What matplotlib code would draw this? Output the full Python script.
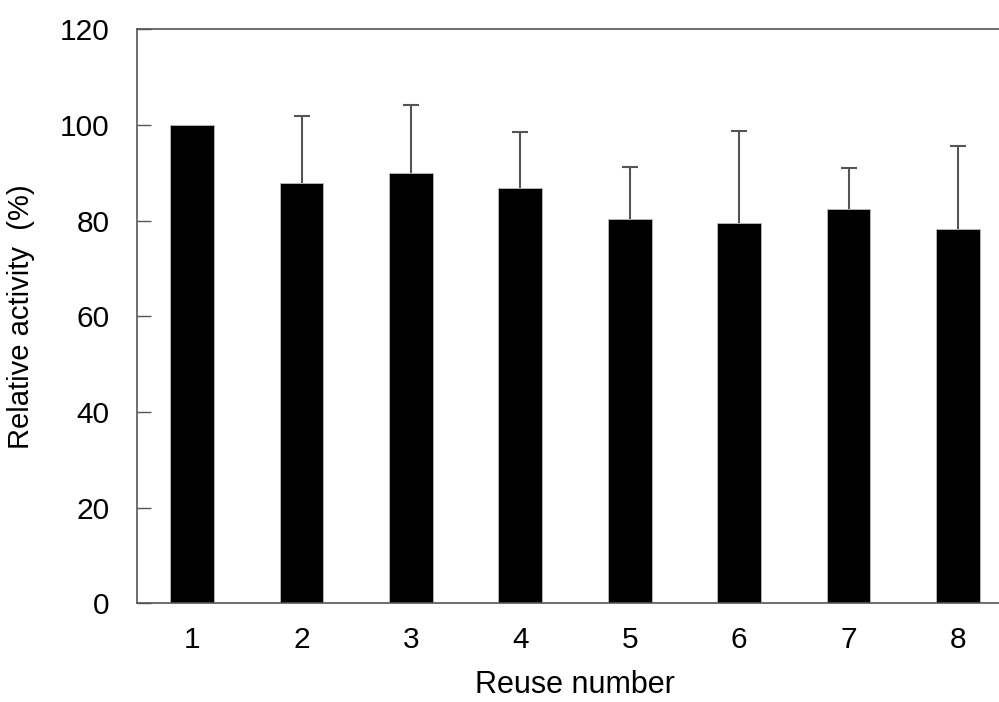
import matplotlib
matplotlib.use("Agg")
import matplotlib.pyplot as plt

reuse = [1, 2, 3, 4, 5, 6, 7, 8]
activity = [100.0, 87.8, 89.9, 86.9, 80.3, 79.6, 82.5, 78.2]
err_upper = [0.0, 14.1, 14.3, 11.6, 10.9, 19.1, 8.4, 17.3]
yticks = [0, 20, 40, 60, 80, 100, 120]

plt.rcParams['font.family'] = ['Liberation Sans', 'DejaVu Sans']

fig = plt.figure(figsize=(9.99, 7.02), dpi=100)
ax = fig.add_axes([0.1376, 0.1406, 0.876, 0.8177])

ax.bar(reuse, activity, width=0.4, color='black', edgecolor='#bbbbbb', linewidth=0.6, zorder=2)

ex = [x for x, e in zip(reuse, err_upper) if e > 0]
ey = [y for y, e in zip(activity, err_upper) if e > 0]
ee = [e for e in err_upper if e > 0]
eb = ax.errorbar(ex, ey, yerr=[[0]*len(ee), ee], fmt='none',
                 ecolor='#555555', elinewidth=1.5, capsize=5.5, capthick=1.5, zorder=1)
eb[1][0].remove()  # keep only upper caps

ax.set_xlim(0.5, 8.5)
ax.set_ylim(0, 120)
ax.set_yticks(yticks)
ax.set_xticks(reuse)
ax.tick_params(axis='y', direction='in', length=10, width=1, color='#555555', pad=20, labelsize=21.5)
ax.tick_params(axis='x', length=0, pad=16, labelsize=21.5)
for s in ax.spines.values():
    s.set_color('#555555')
    s.set_linewidth(1.2)

ax.set_xlabel('Reuse number', fontsize=22, labelpad=12)
ax.set_ylabel('Relative activity  (%)', fontsize=21, labelpad=18)

fig.savefig('out.png', dpi=100)
